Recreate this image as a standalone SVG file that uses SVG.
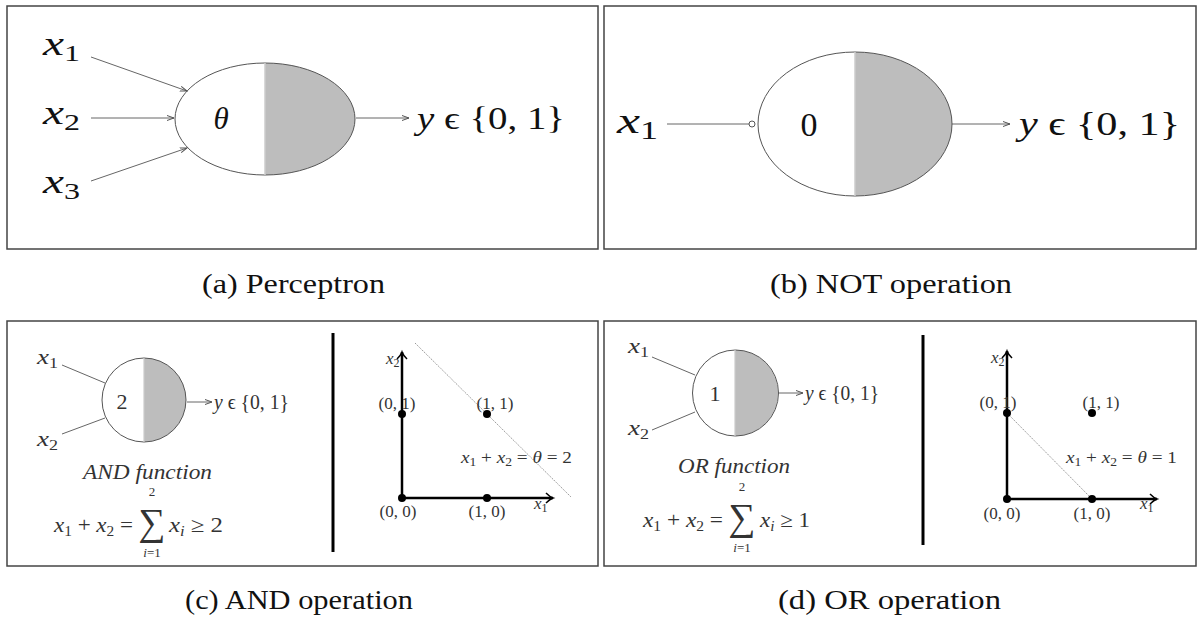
<svg xmlns="http://www.w3.org/2000/svg" width="1201" height="617" viewBox="0 0 1201 617">
<style>
.frame{fill:#fff;stroke:#444;stroke-width:1.5}
.t{font-family:"Liberation Serif","DejaVu Serif",serif;fill:#111}
.m{font-family:"Liberation Serif","DejaVu Serif",serif;font-style:italic;fill:#111}
.s{font-family:"Liberation Serif","DejaVu Serif",serif;fill:#333}
.si{font-family:"Liberation Serif","DejaVu Serif",serif;font-style:italic;fill:#333}
.cap{font-family:"Liberation Serif","DejaVu Serif",serif;font-size:27px;fill:#111}
.edge{stroke:#666;stroke-width:1;fill:none}
.ax{stroke:#000;stroke-width:2.5;fill:none}
.gray{fill:#bdbdbd}
.outline{fill:none;stroke:#555;stroke-width:1}
.dotline{stroke:#999;stroke-width:1;stroke-dasharray:1.5 1;fill:none}
.dot{fill:#000}
</style>
<defs>
<marker id="arr" markerWidth="8" markerHeight="8" refX="7" refY="4" orient="auto" markerUnits="userSpaceOnUse">
<path d="M0,1.5 L7,4 L0,6.5" fill="none" stroke="#555" stroke-width="1"/>
</marker>
<marker id="axarr" markerWidth="12" markerHeight="12" refX="9" refY="6" orient="auto" markerUnits="userSpaceOnUse">
<path d="M2,1 Q6,5 9,6 Q6,7 2,11" fill="none" stroke="#000" stroke-width="1.5"/>
</marker>
</defs>

<!-- frames -->
<rect class="frame" x="7" y="6" width="591" height="243"/>
<rect class="frame" x="604" y="6" width="592" height="243"/>
<rect class="frame" x="7" y="321" width="591" height="245"/>
<rect class="frame" x="604" y="321" width="592" height="245"/>

<!-- connectors -->
<g id="connectors">
<line class="edge" x1="91" y1="57" x2="187" y2="91" marker-end="url(#arr)"/>
<line class="edge" x1="91" y1="118" x2="174" y2="118" marker-end="url(#arr)"/>
<line class="edge" x1="91" y1="181" x2="187" y2="148" marker-end="url(#arr)"/>
<line class="edge" x1="356" y1="118" x2="409" y2="118" marker-end="url(#arr)"/>
<line class="edge" x1="667" y1="124" x2="749" y2="124"/>
<line class="edge" x1="952" y1="124" x2="1010" y2="124" marker-end="url(#arr)"/>
<line class="edge" x1="62" y1="365" x2="105" y2="383"/>
<line class="edge" x1="62" y1="434" x2="105" y2="418"/>
<line class="edge" x1="187" y1="402" x2="212" y2="402" marker-end="url(#arr)"/>
<line class="edge" x1="652" y1="357" x2="695" y2="375"/>
<line class="edge" x1="652" y1="430" x2="695" y2="412"/>
<line class="edge" x1="779" y1="393" x2="803" y2="393" marker-end="url(#arr)"/>
</g>

<!-- (a) perceptron -->
<g id="perceptron">
<path class="gray" d="M265,63 A90,56 0 0 1 265,175 Z"/>
<ellipse class="outline" cx="265" cy="119" rx="90" ry="56"/>
<line x1="265" y1="63" x2="265" y2="175" stroke="#ccc" stroke-width="1.5"/>
<text class="m" x="221" y="129" font-size="31" text-anchor="middle">θ</text>
</g>
<g id="a-labels">
<text class="m" x="43" y="55" font-size="34" textLength="37" lengthAdjust="spacingAndGlyphs">x<tspan font-style="normal" font-size="23" dy="6">1</tspan></text>
<text class="m" x="43" y="124" font-size="34" textLength="37" lengthAdjust="spacingAndGlyphs">x<tspan font-style="normal" font-size="23" dy="6">2</tspan></text>
<text class="m" x="43" y="193" font-size="34" textLength="37" lengthAdjust="spacingAndGlyphs">x<tspan font-style="normal" font-size="23" dy="6">3</tspan></text>
<text class="m" x="417" y="129" font-size="32" textLength="148" lengthAdjust="spacingAndGlyphs">y <tspan font-style="normal">ϵ {0, 1}</tspan></text>
</g>

<!-- (b) NOT -->
<g id="not-neuron">
<path class="gray" d="M855,52 A97,72 0 0 1 855,196 Z"/>
<ellipse class="outline" cx="855" cy="124" rx="97" ry="72"/>
<line x1="855" y1="52" x2="855" y2="196" stroke="#ccc" stroke-width="1.5"/>
<text class="t" x="809" y="136" font-size="34" text-anchor="middle">0</text>
<circle cx="752" cy="124" r="3" fill="#fff" stroke="#555" stroke-width="1"/>
</g>
<g id="b-labels">
<text class="m" x="617" y="133" font-size="36" textLength="41" lengthAdjust="spacingAndGlyphs">x<tspan font-style="normal" font-size="25" dy="6">1</tspan></text>
<text class="m" x="1019" y="135" font-size="34" textLength="161" lengthAdjust="spacingAndGlyphs">y <tspan font-style="normal">ϵ {0, 1}</tspan></text>
</g>

<!-- (c) AND -->
<g id="and-neuron">
<path class="gray" d="M144,358 A42,42 0 0 1 144,442 Z"/>
<circle class="outline" cx="144" cy="400" r="42"/>
<line x1="144" y1="358" x2="144" y2="442" stroke="#ccc" stroke-width="1.2"/>
<text class="s" x="122" y="409" font-size="22" text-anchor="middle">2</text>
<text class="si" x="37" y="364" font-size="21" textLength="21" lengthAdjust="spacingAndGlyphs">x<tspan font-style="normal" font-size="14" dy="4">1</tspan></text>
<text class="si" x="37" y="446" font-size="21" textLength="21" lengthAdjust="spacingAndGlyphs">x<tspan font-style="normal" font-size="14" dy="4">2</tspan></text>
<text class="si" x="214" y="409" font-size="21" textLength="75" lengthAdjust="spacingAndGlyphs">y <tspan font-style="normal">ϵ {0, 1}</tspan></text>
<text class="si" x="83" y="479" font-size="21" textLength="129" lengthAdjust="spacingAndGlyphs">AND function</text>
<text class="si" x="54" y="532" font-size="21" textLength="79" lengthAdjust="spacingAndGlyphs">x<tspan font-style="normal" font-size="14" dy="4">1</tspan><tspan font-style="normal" dy="-4"> + </tspan>x<tspan font-style="normal" font-size="14" dy="4">2</tspan><tspan font-style="normal" dy="-4"> =</tspan></text>
<text class="s" x="152" y="535" font-size="38" text-anchor="middle">∑</text>
<text class="s" x="152" y="496" font-size="13" text-anchor="middle">2</text>
<text class="si" x="152" y="557" font-size="13" text-anchor="middle">i<tspan font-style="normal">=1</tspan></text>
<text class="si" x="169" y="532" font-size="21" textLength="54" lengthAdjust="spacingAndGlyphs">x<tspan font-size="14" dy="4">i</tspan><tspan font-style="normal" dy="-4"> ≥ 2</tspan></text>
</g>
<g id="and-plot">
<line x1="333" y1="333" x2="333" y2="552" stroke="#000" stroke-width="3"/>
<line class="dotline" x1="415" y1="343" x2="571" y2="497"/>
<line class="ax" x1="402" y1="498" x2="402" y2="352" marker-end="url(#axarr)"/>
<line class="ax" x1="402" y1="498" x2="553" y2="498" marker-end="url(#axarr)"/>
<circle class="dot" cx="402" cy="498" r="4"/>
<circle class="dot" cx="402" cy="414" r="4"/>
<circle class="dot" cx="487" cy="414" r="4"/>
<circle class="dot" cx="487" cy="498" r="4"/>
<text class="si" x="386" y="364" font-size="17">x<tspan font-style="normal" font-size="12" dy="3">2</tspan></text>
<text class="s" x="397" y="409" font-size="17" text-anchor="middle">(0, 1)</text>
<text class="s" x="495" y="409" font-size="17" text-anchor="middle">(1, 1)</text>
<text class="s" x="398" y="517" font-size="17" text-anchor="middle">(0, 0)</text>
<text class="s" x="487" y="517" font-size="17" text-anchor="middle">(1, 0)</text>
<text class="si" x="534" y="509" font-size="17">x<tspan font-style="normal" font-size="12" dy="3">1</tspan></text>
<text class="si" x="461" y="463" font-size="17" textLength="111" lengthAdjust="spacingAndGlyphs">x<tspan font-style="normal" font-size="12" dy="3">1</tspan><tspan font-style="normal" dy="-3"> + </tspan>x<tspan font-style="normal" font-size="12" dy="3">2</tspan><tspan font-style="normal" dy="-3"> = </tspan>θ<tspan font-style="normal"> = 2</tspan></text>
</g>

<!-- (d) OR -->
<g id="or-neuron">
<path class="gray" d="M735,350 A43,43 0 0 1 735,436 Z"/>
<circle class="outline" cx="735.5" cy="393" r="43"/>
<line x1="735" y1="350" x2="735" y2="436" stroke="#ccc" stroke-width="1.2"/>
<text class="s" x="715" y="401" font-size="22" text-anchor="middle">1</text>
<text class="si" x="628" y="353" font-size="21" textLength="21" lengthAdjust="spacingAndGlyphs">x<tspan font-style="normal" font-size="14" dy="4">1</tspan></text>
<text class="si" x="628" y="435" font-size="21" textLength="21" lengthAdjust="spacingAndGlyphs">x<tspan font-style="normal" font-size="14" dy="4">2</tspan></text>
<text class="si" x="805" y="400" font-size="21" textLength="74" lengthAdjust="spacingAndGlyphs">y <tspan font-style="normal">ϵ {0, 1}</tspan></text>
<text class="si" x="678" y="473" font-size="21" textLength="112" lengthAdjust="spacingAndGlyphs">OR function</text>
<text class="si" x="643" y="527" font-size="21" textLength="80" lengthAdjust="spacingAndGlyphs">x<tspan font-style="normal" font-size="14" dy="4">1</tspan><tspan font-style="normal" dy="-4"> + </tspan>x<tspan font-style="normal" font-size="14" dy="4">2</tspan><tspan font-style="normal" dy="-4"> =</tspan></text>
<text class="s" x="742" y="530" font-size="38" text-anchor="middle">∑</text>
<text class="s" x="742" y="491" font-size="13" text-anchor="middle">2</text>
<text class="si" x="742" y="552" font-size="13" text-anchor="middle">i<tspan font-style="normal">=1</tspan></text>
<text class="si" x="760" y="527" font-size="21" textLength="50" lengthAdjust="spacingAndGlyphs">x<tspan font-size="14" dy="4">i</tspan><tspan font-style="normal" dy="-4"> ≥ 1</tspan></text>
</g>
<g id="or-plot">
<line x1="923" y1="335" x2="923" y2="545" stroke="#000" stroke-width="3"/>
<line class="dotline" x1="1007" y1="413" x2="1092" y2="499"/>
<line class="ax" x1="1007" y1="499" x2="1007" y2="351" marker-end="url(#axarr)"/>
<line class="ax" x1="1007" y1="499" x2="1157" y2="499" marker-end="url(#axarr)"/>
<circle class="dot" cx="1007" cy="499" r="4"/>
<circle class="dot" cx="1007" cy="413" r="4"/>
<circle class="dot" cx="1092" cy="413" r="4"/>
<circle class="dot" cx="1092" cy="499" r="4"/>
<text class="si" x="991" y="363" font-size="17">x<tspan font-style="normal" font-size="12" dy="3">2</tspan></text>
<text class="s" x="998" y="408" font-size="17" text-anchor="middle">(0, 1)</text>
<text class="s" x="1101" y="408" font-size="17" text-anchor="middle">(1, 1)</text>
<text class="s" x="1002" y="519" font-size="17" text-anchor="middle">(0, 0)</text>
<text class="s" x="1092" y="519" font-size="17" text-anchor="middle">(1, 0)</text>
<text class="si" x="1140" y="509" font-size="17">x<tspan font-style="normal" font-size="12" dy="3">1</tspan></text>
<text class="si" x="1066" y="463" font-size="17" textLength="111" lengthAdjust="spacingAndGlyphs">x<tspan font-style="normal" font-size="12" dy="3">1</tspan><tspan font-style="normal" dy="-3"> + </tspan>x<tspan font-style="normal" font-size="12" dy="3">2</tspan><tspan font-style="normal" dy="-3"> = </tspan>θ<tspan font-style="normal"> = 1</tspan></text>
</g>

<!-- captions -->
<text class="cap" x="202" y="293" textLength="183" lengthAdjust="spacingAndGlyphs">(a) Perceptron</text>
<text class="cap" x="770" y="293" textLength="242" lengthAdjust="spacingAndGlyphs">(b) NOT operation</text>
<text class="cap" x="185" y="609" textLength="228" lengthAdjust="spacingAndGlyphs">(c) AND operation</text>
<text class="cap" x="778" y="609" textLength="223" lengthAdjust="spacingAndGlyphs">(d) OR operation</text>
</svg>
